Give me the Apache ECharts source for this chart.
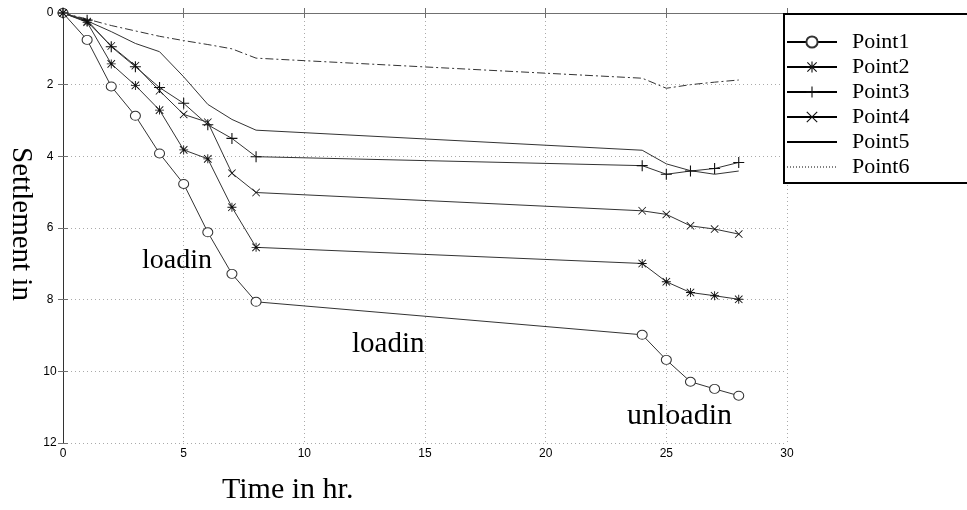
<!DOCTYPE html>
<html>
<head>
<meta charset="utf-8">
<script src="https://cdn.jsdelivr.net/npm/echarts@6/dist/echarts.min.js"></script>
<style>
  html, body { margin: 0; padding: 0; background: #fff; }
  #chart { width: 967px; height: 510px; }
</style>
</head>
<body>
<div id="chart"></div>
<script>
// readings: time (hr) and settlement of each point
const time = [0, 1, 2, 3, 4, 5, 6, 7, 8, 24, 25, 26, 27, 28];
const point1 = [0, 0.75, 2.05, 2.87, 3.92, 4.77, 6.12, 7.28, 8.06, 8.98, 9.68, 10.29, 10.49, 10.68];
const point2 = [0, 0.26, 1.42, 2.02, 2.71, 3.82, 4.07, 5.42, 6.54, 6.99, 7.5, 7.8, 7.89, 7.99];
const point3 = [0, 0.2, 0.94, 1.5, 2.08, 2.52, 3.12, 3.5, 4.01, 4.26, 4.5, 4.41, 4.34, 4.17];
const point4 = [0, 0.24, 0.92, 1.47, 2.17, 2.83, 3.05, 4.47, 5.01, 5.52, 5.62, 5.94, 6.03, 6.17];
const point5 = [0, 0.22, 0.52, 0.85, 1.08, 1.78, 2.55, 2.97, 3.27, 3.83, 4.21, 4.4, 4.5, 4.41];
const point6 = [0, 0.17, 0.35, 0.5, 0.65, 0.77, 0.88, 1.0, 1.26, 1.82, 2.1, 2.0, 1.93, 1.87];
const seriesNames = ['Point1', 'Point2', 'Point3', 'Point4', 'Point5', 'Point6'];
const xTicks = [0, 30, 5];
const yTicks = [0, 12, 2];

// matlab style markers
const PLUS = 'path://M0,4.5H10V5.5H0ZM4.5,0H5.5V10H4.5Z';
const CROSS = 'path://M0.7,0L5,4.3L9.3,0L10,0.7L5.7,5L10,9.3L9.3,10L5,5.7L0.7,10L0,9.3L4.3,5L0,0.7Z';
const STAR = 'path://M0,4.5H10V5.5H0ZM4.5,0H5.5V10H4.5ZM1.2,0.5L5,4.3L8.8,0.5L9.5,1.2L5.7,5L9.5,8.8L8.8,9.5L5,5.7L1.2,9.5L0.5,8.8L4.3,5L0.5,1.2Z';

const pairs = ys => time.map((t, i) => [t, ys[i]]);

function makeSeries(name, ys, symbol, size, dash) {
  const noMarker = symbol === 'none';
  const ring = symbol === 'circle';
  return {
    name: name,
    type: 'line',
    data: pairs(ys),
    symbol: symbol,
    symbolSize: size,
    showSymbol: !noMarker,
    animation: false,
    lineStyle: { color: '#333', width: 1, type: dash || 'solid' },
    itemStyle: ring
      ? { color: '#fff', borderColor: '#333', borderWidth: 1 }
      : { color: '#111', borderWidth: 0 },
    emphasis: { disabled: true }
  };
}

const axisGray = '#707070';
const serif = 'Liberation Serif';

// legend entries: line on its own for the last two
const legendData = seriesNames.map((n, i) => {
  const item = { name: n, lineStyle: { width: 2, color: '#000' } };
  if (i >= 4) item.itemStyle = { opacity: 0 };
  if (i === 5) item.lineStyle = { width: 1, color: '#000', type: [1, 2] };
  return item;
});

const option = {
  backgroundColor: '#fff',
  animation: false,
  grid: { left: 63, right: 180, top: 13, bottom: 67 },
  xAxis: [{
    type: 'value', min: xTicks[0], max: xTicks[1], interval: xTicks[2],
    axisLine: { lineStyle: { color: axisGray } },
    axisTick: { inside: true, length: 5, lineStyle: { color: axisGray } },
    axisLabel: { color: '#000', fontFamily: 'Liberation Sans', fontSize: 12, margin: 5 },
    splitLine: { show: true, lineStyle: { color: '#aaa', type: [1, 3] } }
  }, {
    type: 'value', position: 'top', min: xTicks[0], max: xTicks[1], interval: xTicks[2],
    axisLine: { show: true, lineStyle: { color: axisGray } },
    axisTick: { inside: true, length: 5, lineStyle: { color: axisGray } },
    axisLabel: { show: false },
    splitLine: { show: false }
  }],
  yAxis: [{
    type: 'value', inverse: true, min: yTicks[0], max: yTicks[1], interval: yTicks[2],
    axisLine: { show: true, lineStyle: { color: axisGray } },
    axisTick: { show: true, inside: true, length: 5, lineStyle: { color: axisGray } },
    axisLabel: { color: '#000', fontFamily: 'Liberation Sans', fontSize: 12, margin: 13, align: 'center' },
    splitLine: { show: true, lineStyle: { color: '#aaa', type: [1, 3] } }
  }, {
    type: 'value', position: 'right', inverse: true, min: yTicks[0], max: yTicks[1], interval: yTicks[2],
    axisLine: { show: true, lineStyle: { color: '#333' } },
    axisTick: { show: true, inside: true, length: 5, lineStyle: { color: axisGray } },
    axisLabel: { show: false },
    splitLine: { show: false }
  }],
  legend: {
    orient: 'vertical',
    left: 784, top: 14,
    padding: [17, 80, 5, 2],
    itemWidth: 50, itemHeight: 14, itemGap: 3,
    backgroundColor: '#fff',
    borderColor: '#000', borderWidth: 2,
    z: 10,
    selectedMode: false,
    textStyle: { fontFamily: serif, fontSize: 22, color: '#000', padding: [0, 0, 0, 10] },
    data: legendData
  },
  graphic: [
    { type: 'text', left: 142, top: 247, style: { text: 'loadin', font: '28px "Liberation Serif"', fill: '#000' } },
    { type: 'text', left: 352, top: 330, style: { text: 'loadin', font: '29px "Liberation Serif"', fill: '#000' } },
    { type: 'text', left: 627, top: 401, style: { text: 'unloadin', font: '30px "Liberation Serif"', fill: '#000' } },
    { type: 'text', left: 222, top: 475, style: { text: 'Time in hr.', font: '30px "Liberation Serif"', fill: '#000' } },
    { type: 'text', x: 21, y: 224, rotation: -Math.PI / 2,
      style: { text: 'Settlement in', font: '29px "Liberation Serif"', fill: '#000', align: 'center', verticalAlign: 'middle' } }
  ],
  series: [
    makeSeries(seriesNames[0], point1, 'circle', [10, 9]),
    makeSeries(seriesNames[1], point2, STAR, 9),
    makeSeries(seriesNames[2], point3, PLUS, 11),
    makeSeries(seriesNames[3], point4, CROSS, 8),
    makeSeries(seriesNames[4], point5, 'none', 0),
    makeSeries(seriesNames[5], point6, 'none', 0, [8, 3, 2, 3])
  ]
};

const chart = echarts.init(document.getElementById('chart'), null, { renderer: 'canvas' });
chart.setOption(option);
</script>
</body>
</html>
